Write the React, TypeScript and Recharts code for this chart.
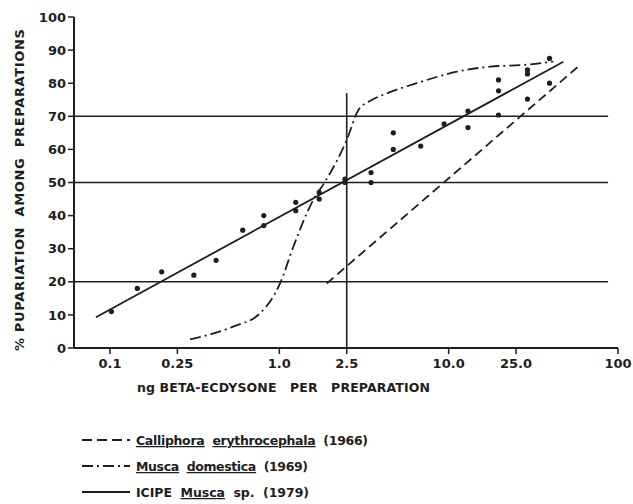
import React from 'react';
import {
  ComposedChart,
  Line,
  Scatter,
  XAxis,
  YAxis,
  ReferenceLine,
} from 'recharts';

// Dose (ng beta-ecdysone) vs. % pupariation
const xTicks = [0.1, 0.25, 1, 2.5, 10, 25, 100];
const xTickLabels = ['0.1', '0.25', '1.0', '2.5', '10.0', '25.0', '100'];
const yTicks = [0, 10, 20, 30, 40, 50, 60, 70, 80, 90, 100];

// ICIPE Musca sp. (1979) observations
const icipeDose = [
  0.102, 0.145, 0.202, 0.313, 0.423, 0.608, 0.81, 0.81, 1.25, 1.25, 1.72, 1.72,
  2.44, 2.44, 3.48, 3.48, 4.71, 4.71, 6.84, 9.4, 13.0, 13.0, 19.7, 19.7, 19.7,
  29.2, 29.2, 29.2, 39.4, 39.4,
];
const icipePct = [
  11, 18, 23, 22, 26.5, 35.6, 40, 37, 44, 41.5, 47, 45, 51, 50, 53, 50, 65, 60,
  61, 67.7, 71.6, 66.6, 81, 77.7, 70.4, 84, 82.8, 75.2, 87.5, 80,
];

// ICIPE regression line end points
const icipeFitDose = [0.0826, 47.6];
const icipeFitPct = [9.3, 86.5];

// Calliphora erythrocephala (1966)
const calliphoraDose = [1.905, 59.7];
const calliphoraPct = [19.5, 85.5];

// Musca domestica (1969)
const domesticaDose = [
  0.297, 0.53, 0.77, 1.01, 1.21, 1.585, 1.86, 2.5, 2.93, 3.51, 4.3, 5.16, 6.47,
  11.2, 17.6, 27.6, 41.5,
];
const domesticaPct = [
  2.6, 6.4, 10.5, 19.5, 30.6, 44.7, 50.2, 62.8, 71.9, 74.9, 76.9, 78.4, 80,
  83.5, 85, 85.5, 86.5,
];

// Reference levels
const levelLines = [20, 50, 70];
const levelEndDose = 87.4;
const refDose = 2.5;
const refDoseTop = 77;

const zip = (xs: number[], ys: number[]) => xs.map((x, i) => ({ x, y: ys[i] }));

const icipePoints = zip(icipeDose, icipePct);
const icipeFit = zip(icipeFitDose, icipeFitPct);
const calliphora = zip(calliphoraDose, calliphoraPct);
const domestica = zip(domesticaDose, domesticaPct);

const INK = '#1e1e1e';
const FONT = '"DejaVu Sans", sans-serif';
const X_MIN = 0.0613;

const Dot = (props: any) => {
  const { cx, cy } = props;
  if (cx == null || cy == null) return null;
  return <circle cx={cx} cy={cy} r={2.6} fill={INK} />;
};

const legendItems = [
  { dash: '10 5', parts: [{ t: 'Calliphora', u: true }, { t: '  ' }, { t: 'erythrocephala', u: true }, { t: '  (1966)' }], len: 232 },
  { dash: '11 4 2 4', parts: [{ t: 'Musca', u: true }, { t: '  ' }, { t: 'domestica', u: true }, { t: '  (1969)' }], len: 172 },
  { dash: '', parts: [{ t: 'ICIPE  ' }, { t: 'Musca', u: true }, { t: '  sp.  (1979)' }], len: 173 },
];

export default function App() {
  return (
    <div style={{ position: 'absolute', left: 0, top: 0, width: 633, height: 504, background: '#fff' }}>
      <ComposedChart
        width={633}
        height={504}
        margin={{ top: 17, right: 15, left: 0, bottom: 126 }}
        style={{ fontFamily: FONT }}
      >
        <XAxis
          type="number"
          dataKey="x"
          scale="log"
          domain={[X_MIN, 100]}
          allowDataOverflow
          ticks={xTicks}
          tickFormatter={(v: number) => xTickLabels[xTicks.indexOf(v)] ?? String(v)}
          height={30}
          tickSize={6}
          tickMargin={5}
          axisLine={{ stroke: INK, strokeWidth: 2 }}
          tickLine={{ stroke: INK, strokeWidth: 1.5 }}
          tick={{ fill: INK, fontSize: 13, fontWeight: 'bold', fontFamily: FONT }}
          label={{
            content: () => (
              <text x={137} y={392} fill={INK} fontSize={12.5} fontWeight="bold" fontFamily={FONT} textLength={293} lengthAdjust="spacing" style={{ whiteSpace: 'pre' }}>
                ng BETA-ECDYSONE   PER   PREPARATION
              </text>
            ),
          }}
        />
        <YAxis
          type="number"
          dataKey="y"
          domain={[0, 100]}
          ticks={yTicks}
          width={74}
          tickSize={6}
          tickMargin={2}
          axisLine={{ stroke: INK, strokeWidth: 2 }}
          tickLine={{ stroke: INK, strokeWidth: 1.5 }}
          tick={{ fill: INK, fontSize: 13, fontWeight: 'bold', fontFamily: FONT }}
          label={{
            content: () => (
              <text
                x={0}
                y={0}
                transform="translate(24 351) rotate(-90)"
                fill={INK}
                fontSize={13}
                fontWeight="bold"
                fontFamily={FONT}
                textLength={322}
                lengthAdjust="spacing"
                style={{ whiteSpace: 'pre' }}
              >
                % PUPARIATION  AMONG  PREPARATIONS
              </text>
            ),
          }}
        />

        {levelLines.map((lv) => (
          <ReferenceLine
            key={lv}
            segment={[
              { x: X_MIN, y: lv },
              { x: levelEndDose, y: lv },
            ]}
            stroke={INK}
            strokeWidth={1.6}
            ifOverflow="visible"
          />
        ))}
        <ReferenceLine
          segment={[
            { x: refDose, y: 0 },
            { x: refDose, y: refDoseTop },
          ]}
          stroke={INK}
          strokeWidth={1.6}
        />

        <Line
          data={calliphora}
          dataKey="y"
          type="linear"
          stroke={INK}
          strokeWidth={1.8}
          strokeDasharray="9 5"
          dot={false}
          isAnimationActive={false}
        />
        <Line
          data={domestica}
          dataKey="y"
          type="monotone"
          stroke={INK}
          strokeWidth={1.8}
          strokeDasharray="11 4 2 4"
          dot={false}
          isAnimationActive={false}
        />
        <Line
          data={icipeFit}
          dataKey="y"
          type="linear"
          stroke={INK}
          strokeWidth={1.8}
          dot={false}
          isAnimationActive={false}
        />
        <Scatter data={icipePoints} dataKey="y" shape={Dot} isAnimationActive={false} />
      </ComposedChart>

      <svg width={633} height={90} style={{ position: 'absolute', left: 0, top: 420 }}>
        {legendItems.map((it, i) => {
          const y = 20 + i * 26;
          return (
            <g key={i}>
              <line
                x1={82}
                x2={130}
                y1={y}
                y2={y}
                stroke={INK}
                strokeWidth={1.8}
                strokeDasharray={it.dash || undefined}
              />
              <text x={136} y={y + 5} fill={INK} fontSize={12.5} fontWeight="bold" fontFamily={FONT} textLength={it.len} lengthAdjust="spacing" style={{ whiteSpace: 'pre' }}>
                {it.parts.map((p, j) => (
                  <tspan key={j} textDecoration={p.u ? 'underline' : undefined}>
                    {p.t}
                  </tspan>
                ))}
              </text>
            </g>
          );
        })}
      </svg>
    </div>
  );
}
